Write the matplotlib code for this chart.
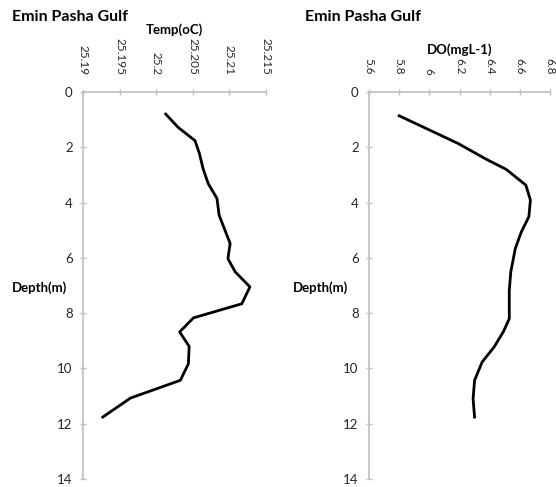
import matplotlib
matplotlib.use("Agg")
import matplotlib.pyplot as plt

plt.rcParams['font.family'] = ['Lato', 'DejaVu Sans']

# Temperature profile
temp_depth = [0.80, 1.28, 1.76, 2.22, 2.77, 3.31, 3.85, 4.46, 5.48, 6.03, 6.51, 7.05,
              7.66, 8.17, 8.68, 9.20, 9.83, 10.43, 11.07, 11.76]
temp_vals = [25.2013, 25.2030, 25.2053, 25.2059, 25.2064, 25.2071, 25.2083, 25.2086,
             25.2101, 25.2098, 25.2108, 25.2128, 25.2117, 25.2051, 25.2032, 25.2045,
             25.2044, 25.2033, 25.1965, 25.1927]

# Dissolved oxygen profile
do_depth = [0.86, 1.86, 2.44, 2.80, 3.37, 3.91, 4.51, 5.06, 5.66, 6.51, 7.17, 7.54,
            8.20, 8.68, 9.22, 9.77, 10.43, 11.10, 11.76]
do_vals = [5.80, 6.19, 6.38, 6.51, 6.64, 6.67, 6.66, 6.61, 6.57, 6.54, 6.53, 6.53,
           6.53, 6.49, 6.43, 6.35, 6.30, 6.29, 6.30]

temp_ticks = [25.19, 25.195, 25.2, 25.205, 25.21, 25.215]
temp_ticklabels = ["25.19", "25.195", "25.2", "25.205", "25.21", "25.215"]
do_ticks = [5.6, 5.8, 6.0, 6.2, 6.4, 6.6, 6.8]
do_ticklabels = ["5.6", "5.8", "6", "6.2", "6.4", "6.6", "6.8"]
depth_ticks = [0, 2, 4, 6, 8, 10, 12, 14]

W, H = 556, 487
fig = plt.figure(figsize=(W / 100, H / 100), dpi=100)

def px_axes(l, r, t, b):
    return fig.add_axes([l / W, 1 - b / H, (r - l) / W, (b - t) / H])

ax1 = px_axes(83, 266, 92, 479)
ax2 = px_axes(369, 550, 92, 479)

grey = "#bfbfbf"
tick_col = "#262626"

def style(ax, xticks, xlabels, xlim, xlabel):
    ax.set_xlim(*xlim)
    ax.set_ylim(14, 0)
    ax.xaxis.tick_top()
    ax.xaxis.set_label_position('top')
    ax.set_xticks(xticks)
    ax.set_xticklabels(xlabels)
    ax.set_yticks(depth_ticks)
    for s in ['right', 'bottom']:
        ax.spines[s].set_visible(False)
    for s in ['left', 'top']:
        ax.spines[s].set_color(grey)
        ax.spines[s].set_linewidth(1.2)
    ax.tick_params(axis='x', direction='inout', length=5, color=grey, width=1,
                   labelsize=8.5, labelcolor=tick_col, pad=10, labelrotation=-90)
    ax.tick_params(axis='y', direction='inout', length=5, color=grey, width=1,
                   labelsize=9.5, labelcolor=tick_col, pad=5)
    ax.set_xlabel(xlabel, fontsize=9.5, fontweight='bold', labelpad=3)

ax1.plot(temp_vals, temp_depth, color='black', lw=2, solid_joinstyle='round')
style(ax1, temp_ticks, temp_ticklabels, (25.19, 25.215), "Temp(oC)")

ax2.plot(do_vals, do_depth, color='black', lw=2, solid_joinstyle='round')
style(ax2, do_ticks, do_ticklabels, (5.6, 6.8), "DO(mgL-1)")

fig.text(12 / W, 1 - 17 / H, "Emin Pasha Gulf", fontsize=11.5, fontweight='bold',
         va='center', ha='left')
fig.text(305 / W, 1 - 17 / H, "Emin Pasha Gulf", fontsize=11.5, fontweight='bold',
         va='center', ha='left')
fig.text(12 / W, 1 - 288 / H, "Depth(m)", fontsize=9.5, fontweight='bold',
         va='center', ha='left')
fig.text(293 / W, 1 - 288 / H, "Depth(m)", fontsize=9.5, fontweight='bold',
         va='center', ha='left')

fig.savefig("out.png", dpi=100)
